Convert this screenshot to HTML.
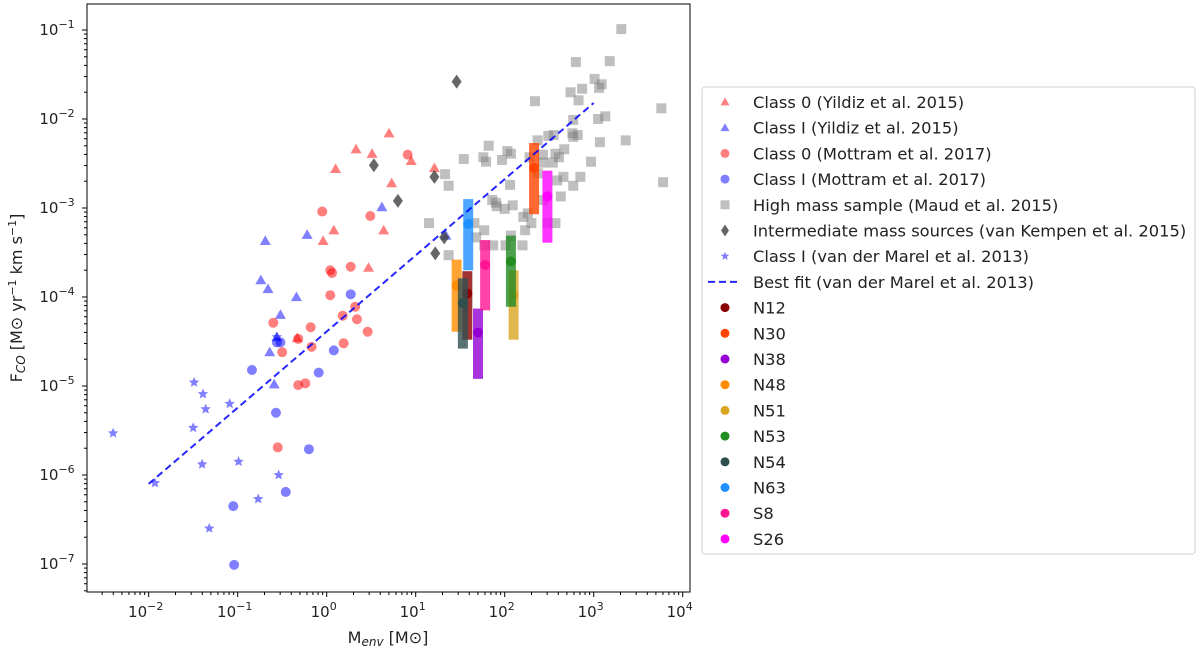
<!DOCTYPE html>
<html><head><meta charset="utf-8"><style>
body{margin:0;background:#fff;}
svg{display:block;font-family:"DejaVu Sans","Liberation Sans",sans-serif;}
</style></head><body>
<svg id="chart" width="1200" height="653" viewBox="0 0 1200 653" xmlns="http://www.w3.org/2000/svg"></svg>
<script>
// Data (log10 values)
const c0yLogM=[0.70,0.33,0.51,0.95,1.21,0.10,0.73,0.08,-0.04,0.64,0.47,-0.33];
const c0yLogF=[-2.16,-2.34,-2.39,-2.47,-2.55,-2.56,-2.72,-3.25,-3.37,-3.25,-3.67,-4.46];
const c1yLogM=[0.62,-0.22,-0.69,-0.74,-0.66,-0.34,-0.52,-0.56,-0.64,-0.59,1.34];
const c1yLogF=[-2.99,-3.30,-3.37,-3.81,-3.91,-4.00,-4.20,-4.45,-4.62,-4.98,-3.31];
const c0mLogM=[-0.05,0.49,0.91,0.04,0.06,0.27,0.04,0.32,0.18,0.34,-0.60,-0.18,0.46,-0.32,-0.50,-0.17,0.19,-0.32,-0.24,-0.55];
const c0mLogF=[-3.04,-3.09,-2.40,-3.70,-3.73,-3.66,-3.98,-4.11,-4.21,-4.25,-4.29,-4.34,-4.39,-4.47,-4.62,-4.56,-4.52,-4.99,-4.97,-5.69];
const c1mLogM=[0.27,-0.56,-0.52,0.08,-0.84,-0.09,-0.57,-0.20,-0.46,-1.05,-1.04];
const c1mLogF=[-3.97,-4.51,-4.51,-4.60,-4.82,-4.85,-5.30,-5.71,-6.19,-6.35,-7.01];
const hmLogM=[3.31,2.80,3.18,3.01,3.09,3.06,2.74,2.87,2.83,2.34,3.76,3.05,3.13,2.77,2.76,2.82,2.77,2.49,2.55,2.37,3.07,3.36,1.82,2.67,2.03,2.07,1.76,1.54,1.97,1.79,2.28,2.43,2.57,2.61,2.54,2.43,2.97,1.33,2.37,2.66,2.59,2.85,1.37,2.06,2.77,3.78,2.63,2.43,1.86,1.90,1.91,2.00,2.09,2.21,2.26,2.30,2.23,2.57,2.48,1.15,1.66,1.77,1.68,1.77,1.87,2.01,2.07,2.20,1.37];
const hmLogF=[-0.99,-1.36,-1.35,-1.55,-1.61,-1.65,-1.70,-1.66,-1.79,-1.80,-1.88,-2.00,-1.97,-2.01,-2.16,-2.18,-2.20,-2.19,-2.18,-2.24,-2.26,-2.24,-2.30,-2.34,-2.36,-2.39,-2.43,-2.45,-2.46,-2.48,-2.43,-2.40,-2.39,-2.43,-2.49,-2.49,-2.48,-2.62,-2.61,-2.65,-2.69,-2.65,-2.75,-2.74,-2.75,-2.71,-2.87,-2.91,-2.91,-2.94,-2.98,-3.01,-2.97,-3.10,-3.06,-3.17,-3.25,-3.17,-3.17,-3.17,-3.17,-3.25,-3.33,-3.42,-3.42,-3.42,-3.31,-3.42,-3.53];
const imLogM=[0.53,0.80,1.46,1.21,1.32,1.22];
const imLogF=[-2.52,-2.92,-1.58,-2.65,-3.33,-3.51];
const starLogM=[-2.40,-1.49,-1.39,-1.36,-1.09,-1.50,-1.40,-0.99,-0.56,-1.93,-0.54,-0.77,-1.32];
const starLogF=[-5.53,-4.96,-5.09,-5.26,-5.20,-5.47,-5.88,-5.85,-4.45,-6.09,-6.00,-6.27,-6.60];
const fitLogM=[-2,3];
const fitLogF=[-6.10,-1.82];
const srcNames=["N12","N30","N38","N48","N51","N53","N54","N63","S8","S26"];
const srcColors=["#8b0000","#ff4500","#9400d3","#ff8c00","#daa520","#228b22","#2f4f4f","#1e90ff","#ff1493","#ff00ff"];
const srcLogM=[1.58,2.33,1.70,1.46,2.10,2.07,1.53,1.59,1.78,2.48];
const srcLogF=[-3.96,-2.55,-4.40,-3.87,-3.98,-3.60,-4.07,-3.18,-3.64,-2.87];
const srcLogFmax=[-3.71,-2.27,-4.13,-3.58,-3.70,-3.31,-3.79,-2.90,-3.36,-2.58];
const srcLogFmin=[-4.48,-3.07,-4.92,-4.39,-4.48,-4.11,-4.58,-3.70,-4.15,-3.39];
const xTickExp=[-2,-1,0,1,2,3,4];
const yTickExp=[-7,-6,-5,-4,-3,-2,-1];

const NS="http://www.w3.org/2000/svg";
const svg=document.getElementById('chart');
const L=87,R=690,T=4,B=592;
const X=lx=>148.7+(lx+2)*89;
const Y=ly=>30+(-1-ly)*89;
function mk(tag,a,parent){const e=document.createElementNS(NS,tag);for(const k in a)e.setAttribute(k,a[k]);(parent||svg).appendChild(e);return e;}

const plot=mk('g',{});


const clip=mk('clipPath',{id:'pc'});mk('rect',{x:L,y:T,width:R-L,height:B-T},clip);
const marks=mk('g',{'clip-path':'url(#pc)'},plot);

function tri(cx,cy,s){return `${cx},${cy-s} ${cx-s},${cy+s*0.75} ${cx+s},${cy+s*0.75}`;}
function series(name,mx,my,draw){const g=mk('g',{},marks);for(let i=0;i<mx.length;i++)draw(g,X(mx[i]),Y(my[i]));}

series('high-mass-series',hmLogM,hmLogF,(g,x,y)=>{const e=mk('rect',{x:x-5,y:y-5,width:10,height:10,fill:'#808080','fill-opacity':0.5},g);});
for(let i=0;i<srcNames.length;i++){
  const g=mk('g',{},marks);
  
  
  const x=X(srcLogM[i]);
  mk('rect',{x:x-5,y:Y(srcLogFmax[i]),width:10,height:Y(srcLogFmin[i])-Y(srcLogFmax[i]),fill:srcColors[i],'fill-opacity':0.8},g);
  mk('circle',{cx:x,cy:Y(srcLogF[i]),r:5,fill:srcColors[i]},g);
}
series('class0-yildiz-series',c0yLogM,c0yLogF,(g,x,y)=>{const e=mk('polygon',{points:tri(x,y,5.5),fill:'#ff0000','fill-opacity':0.5},g);});
series('class1-yildiz-series',c1yLogM,c1yLogF,(g,x,y)=>{const e=mk('polygon',{points:tri(x,y,5.5),fill:'#0000ff','fill-opacity':0.5},g);});
series('class0-mottram-series',c0mLogM,c0mLogF,(g,x,y)=>{const e=mk('circle',{cx:x,cy:y,r:5,fill:'#ff0000','fill-opacity':0.5},g);});
series('class1-mottram-series',c1mLogM,c1mLogF,(g,x,y)=>{const e=mk('circle',{cx:x,cy:y,r:5,fill:'#0000ff','fill-opacity':0.5},g);});
series('intermediate-mass-series',imLogM,imLogF,(g,x,y)=>{const e=mk('polygon',{points:`${x},${y-7} ${x-5},${y} ${x},${y+7} ${x+5},${y}`,fill:'#404040','fill-opacity':0.8},g);});
function star(x,y,r){let p=[];for(let k=0;k<10;k++){const a=-Math.PI/2+k*Math.PI/5;const rr=k%2?r*0.45:r;p.push((x+rr*Math.cos(a)).toFixed(1)+','+(y+rr*Math.sin(a)).toFixed(1));}return p.join(' ');}
series('class1-marel-series',starLogM,starLogF,(g,x,y)=>{const e=mk('polygon',{points:star(x,y,5.5),fill:'#0000ff','fill-opacity':0.5},g);});
const fit=mk('line',{x1:X(fitLogM[0]),y1:Y(fitLogF[0]),x2:X(fitLogM[1]),y2:Y(fitLogF[1]),stroke:'#0000ff','stroke-opacity':0.85,'stroke-width':2,'stroke-dasharray':'7,4'},marks);



mk('rect',{x:L,y:T,width:R-L,height:B-T,fill:'none',stroke:'#000','stroke-width':1},plot);
const axes=mk('g',{fill:'#222'});


for(let d=-3;d<=4;d++){for(let m=1;m<10;m++){const lx=d+Math.log10(m);const x=X(lx);if(x<L||x>R)continue;mk('line',{x1:x,y1:B,x2:x,y2:B+(m==1?5:3),stroke:'#000'},axes);}}
for(let d=-8;d<=0;d++){for(let m=1;m<10;m++){const ly=d+Math.log10(m);const y=Y(ly);if(y<T||y>B)continue;mk('line',{x1:L,y1:y,x2:L-(m==1?5:3),y2:y,stroke:'#000'},axes);}}
xTickExp.forEach(e=>{const t=mk('text',{x:X(e)-3,y:B+25,'text-anchor':'middle','font-size':15},axes);t.innerHTML='10<tspan dy="-7" font-size="11">'+(e<0?'\u2212'+(-e):e)+'</tspan>';});
yTickExp.forEach(e=>{const t=mk('text',{x:L-30,y:Y(e)+5,'text-anchor':'middle','font-size':15},axes);t.innerHTML='10<tspan dy="-7" font-size="11">\u2212'+(-e)+'</tspan>';});
const xl=mk('text',{x:388,y:643,'text-anchor':'middle','font-size':16},axes);

xl.innerHTML='M<tspan font-style="italic" font-size="12" dy="3">env</tspan><tspan dy="-3"> [M\u2299]</tspan>';
const yl=mk('text',{x:0,y:0,'text-anchor':'middle','font-size':16,transform:'translate(22,298) rotate(-90)'},axes);

yl.innerHTML='F<tspan font-style="italic" font-size="12" dy="3">CO</tspan><tspan dy="-3"> [M\u2299 yr</tspan><tspan dy="-6" font-size="11">\u22121</tspan><tspan dy="6"> km s</tspan><tspan dy="-6" font-size="11">\u22121</tspan><tspan dy="6">]</tspan>';

const lg=mk('g',{});


mk('rect',{x:702,y:87,width:493,height:467,rx:3,fill:'#fff',stroke:'#d0d0d0'},lg);
const legLabels=["Class 0 (Yildiz et al. 2015)","Class I (Yildiz et al. 2015)","Class 0 (Mottram et al. 2017)","Class I (Mottram et al. 2017)","High mass sample (Maud et al. 2015)","Intermediate mass sources (van Kempen et al. 2015)","Class I (van der Marel et al. 2013)","Best fit (van der Marel et al. 2013)"].concat(srcNames);
legLabels.forEach((lab,i)=>{
  const y=102+i*25.7, x=725;
  const g=mk('g',{},lg);
  
  
  if(i==0)mk('polygon',{points:tri(x,y,4.5),fill:'#ff0000','fill-opacity':0.5},g);
  else if(i==1)mk('polygon',{points:tri(x,y,4.5),fill:'#0000ff','fill-opacity':0.5},g);
  else if(i==2)mk('circle',{cx:x,cy:y,r:4.5,fill:'#ff0000','fill-opacity':0.5},g);
  else if(i==3)mk('circle',{cx:x,cy:y,r:4.5,fill:'#0000ff','fill-opacity':0.5},g);
  else if(i==4)mk('rect',{x:x-4.5,y:y-4.5,width:9,height:9,fill:'#808080','fill-opacity':0.5},g);
  else if(i==5)mk('polygon',{points:`${x},${y-6} ${x-4},${y} ${x},${y+6} ${x+4},${y}`,fill:'#404040','fill-opacity':0.8},g);
  else if(i==6)mk('polygon',{points:star(x,y,4.5),fill:'#0000ff','fill-opacity':0.5},g);
  else if(i==7)mk('line',{x1:708,y1:y,x2:738,y2:y,stroke:'#0000ff','stroke-opacity':0.85,'stroke-width':2,'stroke-dasharray':'7,4'},g);
  else mk('circle',{cx:x,cy:y,r:4.5,fill:srcColors[i-8]},g);
  const t=mk('text',{x:753,y:y+6,'font-size':16.3,fill:'#222'},g);
  t.textContent=lab;
});
</script>
</body></html>
